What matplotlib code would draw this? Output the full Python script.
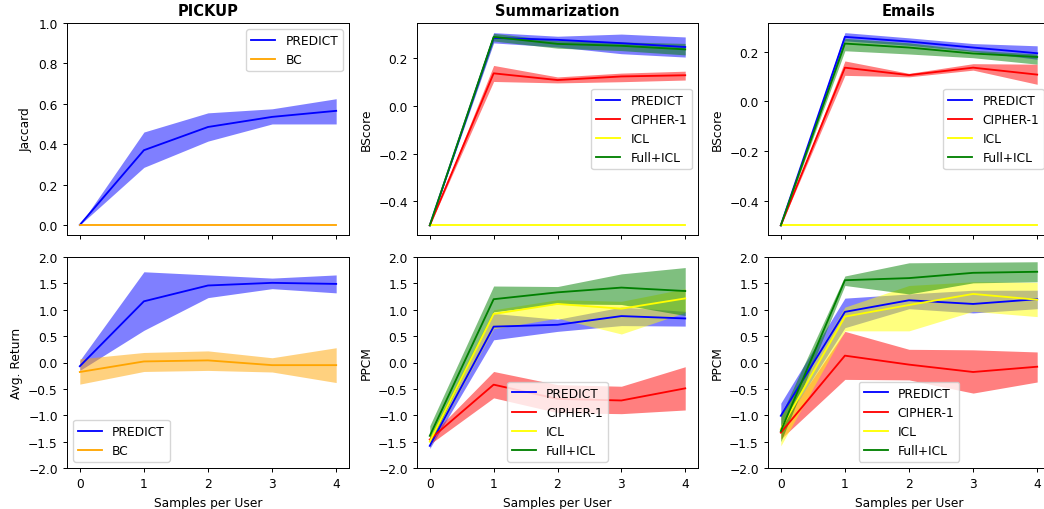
import matplotlib
matplotlib.use("Agg")
import matplotlib.pyplot as plt
import numpy as np

x = [0, 1, 2, 3, 4]

# PICKUP - Jaccard
pick_jac_predict = [0.0, 0.37, 0.485, 0.535, 0.565]
pick_jac_predict_lo = [0.0, 0.285, 0.415, 0.50, 0.50]
pick_jac_predict_hi = [0.0, 0.46, 0.555, 0.575, 0.625]
pick_jac_bc = [0.0, 0.0, 0.0, 0.0, 0.0]

# PICKUP - Avg. Return
pick_ret_predict = [-0.07, 1.16, 1.46, 1.51, 1.49]
pick_ret_predict_lo = [-0.15, 0.61, 1.23, 1.40, 1.32]
pick_ret_predict_hi = [0.04, 1.72, 1.66, 1.60, 1.66]
pick_ret_bc = [-0.18, 0.02, 0.04, -0.05, -0.05]
pick_ret_bc_lo = [-0.41, -0.17, -0.15, -0.18, -0.38]
pick_ret_bc_hi = [0.07, 0.19, 0.22, 0.09, 0.28]

# Summarization - BScore
sum_bs = {
    "PREDICT": ([-0.5, 0.283, 0.275, 0.261, 0.245],
                [-0.5, 0.262, 0.245, 0.217, 0.203],
                [-0.5, 0.305, 0.290, 0.299, 0.287]),
    "CIPHER-1": ([-0.5, 0.135, 0.107, 0.122, 0.127],
                 [-0.5, 0.101, 0.095, 0.100, 0.107],
                 [-0.5, 0.168, 0.120, 0.136, 0.144]),
    "ICL": ([-0.5] * 5, [-0.5] * 5, [-0.5] * 5),
    "Full+ICL": ([-0.5, 0.287, 0.258, 0.250, 0.235],
                 [-0.5, 0.270, 0.240, 0.230, 0.212],
                 [-0.5, 0.302, 0.272, 0.266, 0.260]),
}

# Emails - BScore
email_bs = {
    "PREDICT": ([-0.5, 0.259, 0.240, 0.216, 0.193],
                [-0.5, 0.243, 0.225, 0.200, 0.169],
                [-0.5, 0.276, 0.255, 0.232, 0.223]),
    "CIPHER-1": ([-0.5, 0.135, 0.105, 0.135, 0.107],
                 [-0.5, 0.104, 0.098, 0.125, 0.068],
                 [-0.5, 0.162, 0.112, 0.151, 0.149]),
    "ICL": ([-0.5] * 5, [-0.5] * 5, [-0.5] * 5),
    "Full+ICL": ([-0.5, 0.232, 0.216, 0.192, 0.178],
                 [-0.5, 0.203, 0.190, 0.175, 0.149],
                 [-0.5, 0.253, 0.235, 0.205, 0.190]),
}

# Summarization - PPCM
sum_ppcm = {
    "PREDICT": ([-1.58, 0.68, 0.715, 0.88, 0.835],
                [-1.63, 0.43, 0.59, 0.70, 0.69],
                [-1.50, 0.93, 0.82, 1.05, 0.97]),
    "CIPHER-1": ([-1.46, -0.42, -0.69, -0.72, -0.49],
                 [-1.55, -0.67, -0.95, -0.97, -0.90],
                 [-1.40, -0.17, -0.42, -0.45, -0.08]),
    "ICL": ([-1.50, 0.92, 1.11, 1.02, 1.215],
            [-1.60, 0.64, 0.84, 0.54, 0.95],
            [-1.40, 1.00, 1.19, 1.16, 1.40]),
    "Full+ICL": ([-1.39, 1.20, 1.33, 1.42, 1.355],
                 [-1.55, 0.96, 1.11, 1.10, 0.89],
                 [-1.20, 1.45, 1.44, 1.68, 1.80]),
}

# Emails - PPCM
email_ppcm = {
    "PREDICT": ([-1.01, 0.96, 1.18, 1.11, 1.20],
                [-1.25, 0.66, 1.02, 0.94, 1.02],
                [-0.77, 1.22, 1.30, 1.37, 1.37]),
    "CIPHER-1": ([-1.33, 0.13, -0.04, -0.18, -0.08],
                 [-1.45, -0.32, -0.33, -0.58, -0.37],
                 [-1.20, 0.59, 0.25, 0.24, 0.20]),
    "ICL": ([-1.26, 0.87, 1.09, 1.30, 1.19],
            [-1.58, 0.60, 0.60, 0.97, 0.87],
            [-1.00, 1.05, 1.46, 1.53, 1.52]),
    "Full+ICL": ([-1.30, 1.56, 1.60, 1.70, 1.72],
                 [-1.50, 1.46, 1.30, 1.51, 1.53],
                 [-1.00, 1.64, 1.89, 1.90, 1.91]),
}

ppcm_ticks = [-2.0, -1.5, -1.0, -0.5, 0.0, 0.5, 1.0, 1.5, 2.0]

COLORS = {"PREDICT": "blue", "CIPHER-1": "red", "ICL": "yellow",
          "Full+ICL": "green", "BC": "orange"}

S = 0.88  # reference looks like a scaled-down default figure
plt.rcParams.update({
    "font.size": 10 * S,
    "lines.linewidth": 1.5 * S,
    "axes.linewidth": 0.8 * S,
    "xtick.major.size": 3.5 * S,
    "ytick.major.size": 3.5 * S,
    "xtick.major.width": 0.8 * S,
    "ytick.major.width": 0.8 * S,
    "legend.fontsize": 10 * S,
})


def draw(ax, name, mean, lo, hi):
    ax.plot(x, mean, color=COLORS[name], label=name)
    ax.fill_between(x, lo, hi, color=COLORS[name], alpha=0.5, linewidth=0)


def draw_all(ax, series):
    for name, (mean, lo, hi) in series.items():
        draw(ax, name, mean, lo, hi)


W, H = 1044, 510
fig = plt.figure(figsize=(W / 100, H / 100), dpi=100)


def box(x0, x1, y0, y1):
    return [x0 / W, 1 - y1 / H, (x1 - x0) / W, (y1 - y0) / H]


cols = [(67, 349), (417, 698), (768, 1050)]
top = (24, 236)
bot = (258, 469)

axes_top = []
axes_bot = []
for c in cols:
    a_b = fig.add_axes(box(c[0], c[1], bot[0], bot[1]))
    a_t = fig.add_axes(box(c[0], c[1], top[0], top[1]), sharex=a_b)
    axes_top.append(a_t)
    axes_bot.append(a_b)

# PICKUP
ax = axes_top[0]
draw(ax, "PREDICT", pick_jac_predict, pick_jac_predict_lo, pick_jac_predict_hi)
ax.plot(x, pick_jac_bc, color=COLORS["BC"], label="BC")
ax.set_ylim(-0.05, 1.0)
ax.set_ylabel("Jaccard")
ax.set_title("PICKUP", fontweight="bold")
ax.legend(loc="upper right")

ax = axes_bot[0]
draw(ax, "PREDICT", pick_ret_predict, pick_ret_predict_lo, pick_ret_predict_hi)
draw(ax, "BC", pick_ret_bc, pick_ret_bc_lo, pick_ret_bc_hi)
ax.set_ylabel("Avg. Return")
ax.legend(loc="lower left")

# Summarization
ax = axes_top[1]
draw_all(ax, sum_bs)
ax.set_ylabel("BScore")
ax.set_title("Summarization", fontweight="bold")
ax.legend(loc="center right")

ax = axes_bot[1]
draw_all(ax, sum_ppcm)
ax.set_ylabel("PPCM")
ax.legend(loc="lower center")

# Emails
ax = axes_top[2]
draw_all(ax, email_bs)
ax.set_ylabel("BScore")
ax.set_title("Emails", fontweight="bold")
ax.legend(loc="center right")

ax = axes_bot[2]
draw_all(ax, email_ppcm)
ax.set_ylabel("PPCM")
ax.legend(loc="lower center")

for ax in axes_bot:
    ax.set_ylim(-2.0, 2.0)
    ax.set_yticks(ppcm_ticks)
    ax.set_xlabel("Samples per User")
    ax.set_xticks(x)
for ax in axes_top:
    ax.tick_params(labelbottom=False)

fig.savefig("out.png", dpi=100)
